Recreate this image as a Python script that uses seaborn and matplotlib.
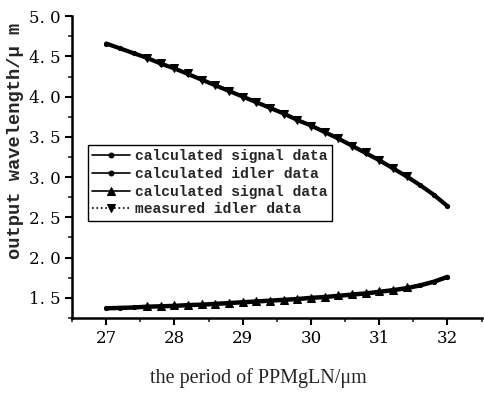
import numpy as np
import pandas as pd
import matplotlib
matplotlib.use("Agg")
import matplotlib.pyplot as plt
from matplotlib.ticker import MultipleLocator, FuncFormatter
import seaborn as sns

# period of PPMgLN (um), calculated curves
period = [27.0, 27.2, 27.4, 27.6, 27.8, 28.0, 28.2, 28.4, 28.6, 28.8, 29.0, 29.2, 29.4,
          29.6, 29.8, 30.0, 30.2, 30.4, 30.6, 30.8, 31.0, 31.2, 31.4, 31.6, 31.8, 32.0]
calc_signal = [1.37, 1.375, 1.38, 1.39, 1.395, 1.40, 1.41, 1.415, 1.425, 1.435, 1.445, 1.455, 1.465,
               1.475, 1.485, 1.50, 1.51, 1.525, 1.54, 1.555, 1.575, 1.595, 1.62, 1.655, 1.70, 1.76]
calc_idler = [4.66, 4.60, 4.54, 4.48, 4.41, 4.35, 4.28, 4.21, 4.14, 4.07, 4.00, 3.93, 3.86,
              3.79, 3.71, 3.64, 3.56, 3.48, 3.39, 3.30, 3.21, 3.11, 3.01, 2.90, 2.78, 2.64]

# measured points
meas_period = [27.6, 27.8, 28.0, 28.2, 28.4, 28.6, 28.8, 29.0, 29.2, 29.4, 29.6, 29.8,
               30.0, 30.2, 30.4, 30.6, 30.8, 31.0, 31.2, 31.4]
meas_signal = [1.395, 1.395, 1.405, 1.41, 1.42, 1.425, 1.435, 1.445, 1.455, 1.465, 1.475, 1.485,
               1.50, 1.515, 1.53, 1.545, 1.56, 1.58, 1.60, 1.63]
meas_idler = [4.48, 4.42, 4.35, 4.29, 4.21, 4.15, 4.07, 4.00, 3.93, 3.86, 3.79, 3.71,
              3.64, 3.56, 3.48, 3.39, 3.31, 3.21, 3.11, 3.02]

labels = ["calculated signal data", "calculated idler data",
          "calculated signal data", "measured idler data"]

calc = pd.DataFrame({"period": period, "signal": calc_signal, "idler": calc_idler})
meas = pd.DataFrame({"period": meas_period, "signal": meas_signal, "idler": meas_idler})

sns.set_theme(style="ticks")
plt.rcParams["font.family"] = ["DejaVu Serif"]

fig = plt.figure(figsize=(4.84, 3.94), dpi=100)
ax = fig.add_axes([0.149, 0.193, 0.846, 0.766])

sns.lineplot(data=calc, x="period", y="signal", ax=ax, color="black", lw=3.2,
             marker="o", markersize=3, markeredgecolor="black", label=labels[0])
sns.lineplot(data=calc, x="period", y="idler", ax=ax, color="black", lw=3.0,
             marker="o", markersize=3, markeredgecolor="black", label=labels[1])
sns.lineplot(data=meas, x="period", y="signal", ax=ax, color="black", lw=1.0,
             marker="^", markersize=5.5, markeredgecolor="black", label=labels[2])
sns.lineplot(data=meas, x="period", y="idler", ax=ax, color="black", lw=0.8,
             linestyle=":", marker="v", markersize=5.5, markeredgecolor="black", label=labels[3])

ax.set_xlim(26.5, 32.5)
ax.set_ylim(1.25, 5.0)
ax.xaxis.set_major_locator(MultipleLocator(1))
ax.xaxis.set_minor_locator(MultipleLocator(0.5))
ax.yaxis.set_major_locator(MultipleLocator(0.5))
ax.yaxis.set_minor_locator(MultipleLocator(0.25))
ax.yaxis.set_major_formatter(FuncFormatter(lambda v, p: f"{v:.1f}".replace(".", ". ")))
ax.tick_params(which="major", direction="out", length=5, width=1.5, labelsize=12, colors="black")
ax.tick_params(which="minor", direction="out", length=3, width=1.2)

sns.despine(ax=ax)
for s in ["left", "bottom"]:
    ax.spines[s].set_linewidth(1.8)
    ax.spines[s].set_color("black")

ax.set_xlabel("the period of PPMgLN/\u03bcm", fontfamily="Liberation Serif", fontsize=14.5)
ax.xaxis.set_label_coords(0.456, -0.165)
ax.set_ylabel("output wavelength/\u03bc m", fontfamily="Liberation Mono", fontweight="bold",
              fontsize=13.5)
ax.yaxis.set_label_coords(-0.117, 0.586)

leg = ax.legend(loc="upper left", bbox_to_anchor=(0.039, 0.573), borderaxespad=0,
                frameon=True, fancybox=False, edgecolor="black", framealpha=1,
                prop={"family": "Liberation Mono", "weight": "bold", "size": 10.5},
                handlelength=2.6, handletextpad=0.3, labelspacing=0.25, borderpad=0.3)
leg.get_frame().set_linewidth(1.0)
for h in leg.get_lines():
    h.set_linewidth(1.2)
    h.set_markersize(3.5 if h.get_marker() == "o" else 6)

fig.savefig("out.png", dpi=100)
